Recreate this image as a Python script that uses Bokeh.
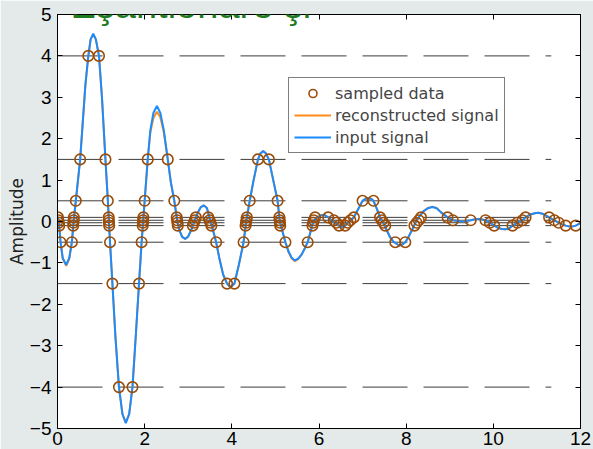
from bokeh.plotting import figure
from bokeh.models import Range1d, LinearAxis, FixedTicker, Legend, LegendItem, Label, ColumnDataSource
from bokeh.embed import file_html
from bokeh.resources import INLINE

# input signal, read point by point
sig_t = [0.00, 0.03, 0.07, 0.12, 0.20, 0.27, 0.33, 0.37, 0.42, 0.52, 0.58, 0.64, 0.707,
         0.76, 0.82, 0.88, 0.952, 1.02, 1.10, 1.155, 1.18, 1.205, 1.26, 1.33, 1.41, 1.49,
         1.567, 1.645, 1.72, 1.80, 1.87, 1.93, 1.965, 2.00, 2.07, 2.13, 2.20, 2.28, 2.36,
         2.44, 2.53, 2.60, 2.68, 2.75, 2.80, 2.86, 2.93, 3.00, 3.07, 3.14, 3.22, 3.29, 3.36,
         3.43, 3.51, 3.57, 3.64, 3.72, 3.80, 3.89, 3.97, 4.06, 4.16, 4.27, 4.33, 4.41, 4.50,
         4.60, 4.66, 4.72, 4.78, 4.85, 4.95, 5.05, 5.10, 5.23, 5.30, 5.37, 5.445, 5.52, 5.60,
         5.67, 5.74, 5.87, 5.95, 6.05, 6.12, 6.21, 6.30, 6.40, 6.52, 6.60, 6.72, 6.80, 6.90,
         7.00, 7.07, 7.14, 7.20, 7.25, 7.33, 7.40, 7.47, 7.55, 7.62, 7.70, 7.75, 7.84, 7.92,
         7.98, 8.06, 8.15, 8.22, 8.30, 8.40, 8.50, 8.60, 8.70, 8.80, 8.95, 9.07, 9.18, 9.28,
         9.38, 9.48, 9.56, 9.65, 9.74, 9.82, 9.92, 10.02, 10.12, 10.20, 10.28, 10.36, 10.44,
         10.55, 10.67, 10.74, 10.85, 10.95, 11.03, 11.15, 11.28, 11.40, 11.50, 11.58, 11.66,
         11.78, 11.89, 12.00]
sig_v = [0.12, 0.00, -0.50, -0.88, -1.05, -0.88, -0.50, 0.00, 0.50, 1.50, 2.40, 3.30, 4.00,
         4.40, 4.54, 4.40, 4.00, 3.00, 1.50, 0.50, 0.00, -0.50, -1.50, -2.80, -4.00, -4.65,
         -4.87, -4.65, -4.00, -2.70, -1.50, -0.50, 0.00, 0.50, 1.50, 2.20, 2.62, 2.79, 2.62,
         2.20, 1.50, 0.95, 0.50, 0.00, -0.22, -0.37, -0.42, -0.36, -0.20, 0.00, 0.22, 0.35, 0.39,
         0.32, 0.00, -0.22, -0.50, -0.92, -1.28, -1.50, -1.59, -1.50, -1.05, -0.50, 0.00, 0.50, 1.00,
         1.50, 1.65, 1.70, 1.65, 1.50, 1.00, 0.50, 0.00, -0.50, -0.72, -0.87, -0.94, -0.90, -0.80,
         -0.66, -0.50, 0.00, 0.10, 0.15, 0.16, 0.10, 0.02, -0.06, -0.14, -0.10, 0.03, 0.10, 0.30,
         0.50, 0.55, 0.56, 0.54, 0.50, 0.30, 0.10, -0.02, -0.20, -0.36, -0.48, -0.52, -0.58, -0.55,
         -0.50, -0.36, -0.17, -0.02, 0.12, 0.25, 0.32, 0.35, 0.32, 0.22, 0.10, 0.03, 0.01, 0.00,
         0.01, 0.03, 0.05, 0.06, 0.05, 0.03, -0.03, -0.10, -0.16, -0.18, -0.19, -0.17, -0.10,
         -0.03, 0.03, 0.10, 0.17, 0.20, 0.21, 0.18, 0.10, 0.03, -0.03, -0.07, -0.10,
         -0.13, -0.10, -0.04]
# reconstruction from the level-crossing samples
rec_v = [0.12, 0.00, -0.50, -0.90, -1.07, -0.90, -0.50, 0.00, 0.50, 1.50, 2.40, 3.30, 4.00,
         4.40, 4.52, 4.40, 4.00, 3.00, 1.50, 0.50, 0.00, -0.50, -1.50, -2.80, -4.00, -4.65,
         -4.85, -4.65, -4.00, -2.70, -1.50, -0.50, 0.00, 0.50, 1.50, 2.15, 2.50, 2.65, 2.52,
         2.15, 1.50, 0.95, 0.50, 0.00, -0.22, -0.37, -0.42, -0.36, -0.20, 0.00, 0.22, 0.35, 0.39,
         0.32, 0.00, -0.22, -0.50, -0.92, -1.28, -1.50, -1.59, -1.50, -1.05, -0.50, 0.00, 0.50, 1.00,
         1.50, 1.65, 1.70, 1.65, 1.50, 1.00, 0.50, 0.00, -0.50, -0.74, -0.89, -0.96, -0.91, -0.80,
         -0.66, -0.50, 0.00, 0.10, 0.15, 0.16, 0.10, 0.02, -0.06, -0.14, -0.10, 0.03, 0.10, 0.30,
         0.50, 0.56, 0.57, 0.55, 0.50, 0.30, 0.10, -0.02, -0.20, -0.36, -0.48, -0.52, -0.58, -0.55,
         -0.50, -0.36, -0.17, -0.02, 0.12, 0.25, 0.33, 0.36, 0.33, 0.22, 0.10, 0.03, 0.01, 0.00,
         0.01, 0.03, 0.05, 0.06, 0.05, 0.03, -0.03, -0.10, -0.16, -0.18, -0.19, -0.17, -0.10,
         -0.03, 0.03, 0.10, 0.17, 0.20, 0.21, 0.18, 0.10, 0.03, -0.03, -0.07, -0.10,
         -0.13, -0.10, -0.04]

# level-crossing samples (time, level)
smp_t = [0.01, 0.02, 0.03, 0.04, 0.07,
         0.33, 0.36, 0.365, 0.37, 0.375, 0.42, 0.52, 0.707,
         0.952, 1.10, 1.155, 1.175, 1.178, 1.182, 1.185, 1.205, 1.26, 1.41,
         1.72, 1.87, 1.93, 1.955, 1.96, 1.964, 1.97, 2.00, 2.07,
         2.53, 2.68, 2.735, 2.745, 2.752, 2.76,
         3.105, 3.13, 3.15, 3.175,
         3.46, 3.49, 3.51, 3.53, 3.64, 3.89,
         4.06, 4.27, 4.315, 4.325, 4.335, 4.345, 4.41, 4.60,
         4.85, 5.05, 5.09, 5.097, 5.103, 5.11, 5.23,
         5.74, 5.85, 5.865, 5.88, 5.91,
         6.21, 6.34, 6.40, 6.46,
         6.60, 6.66, 6.72, 6.80, 7.00,
         7.25, 7.40, 7.44, 7.48, 7.52, 7.75,
         7.98, 8.19, 8.24, 8.29, 8.34,
         8.95, 9.07, 9.48,
         9.82, 9.92, 10.02,
         10.44, 10.55, 10.67, 10.74,
         11.28, 11.40, 11.50, 11.66, 11.89]
smp_v = [0.1, 0.03, -0.03, -0.1, -0.5,
         -0.5, -0.1, -0.03, 0.03, 0.1, 0.5, 1.5, 4.0,
         4.0, 1.5, 0.5, 0.1, 0.03, -0.03, -0.1, -0.5, -1.5, -4.0,
         -4.0, -1.5, -0.5, -0.1, -0.03, 0.03, 0.1, 0.5, 1.5,
         1.5, 0.5, 0.1, 0.03, -0.03, -0.1,
         -0.1, -0.03, 0.03, 0.1,
         0.1, 0.03, -0.03, -0.1, -0.5, -1.5,
         -1.5, -0.5, -0.1, -0.03, 0.03, 0.1, 0.5, 1.5,
         1.5, 0.5, 0.1, 0.03, -0.03, -0.1, -0.5,
         -0.5, -0.1, -0.03, 0.03, 0.1,
         0.1, 0.03, -0.03, -0.1,
         -0.1, -0.03, 0.03, 0.1, 0.5,
         0.5, 0.1, 0.03, -0.03, -0.1, -0.5,
         -0.5, -0.1, -0.03, 0.03, 0.1,
         0.1, 0.03, 0.03,
         0.03, -0.03, -0.1,
         -0.1, -0.03, 0.03, 0.1,
         0.1, 0.03, -0.03, -0.1, -0.1]

# quantisation levels and the time span they are drawn over
levels = [4.0, 1.5, 0.5, 0.1, 0.03, -0.03, -0.1, -0.5, -1.5, -4.0]
level_start = 0.0
level_end = 11.33

x_ticks = [0, 2, 4, 6, 8, 10, 12]
y_ticks = [-5, -4, -3, -2, -1, 0, 1, 2, 3, 4, 5]
y_label = "Amplitude"
legend_labels = ["sampled data", "reconstructed signal", "input signal"]
title_text = "Eşantionare şi"

BG = "#e4eaea"
TICK_FONT = "Liberation Sans"

p = figure(width=593, height=449, x_range=Range1d(0, 12), y_range=Range1d(-5, 5),
           output_backend="svg", toolbar_location=None,
           min_border_left=57, min_border_right=13, min_border_top=14, min_border_bottom=21,
           background_fill_color="white", border_fill_color=BG)
p.xgrid.visible = False
p.ygrid.visible = False
p.outline_line_color = "black"
p.outline_line_width = 1

for ax, ticks in ((p.xaxis[0], x_ticks), (p.yaxis[0], y_ticks)):
    ax.ticker = FixedTicker(ticks=ticks)
    ax.major_tick_in = 5
    ax.major_tick_out = 0
    ax.minor_tick_line_color = None
    ax.axis_line_color = "black"
    ax.major_tick_line_color = "black"
    ax.major_label_text_font = TICK_FONT
    ax.major_label_text_font_size = "19px"
    ax.major_label_text_color = "black"
p.xaxis.major_label_standoff = 3
p.yaxis.major_label_standoff = 6
p.yaxis.axis_label = y_label
p.yaxis.axis_label_text_font = "DejaVu Sans"
p.yaxis.axis_label_text_font_size = "17px"
p.yaxis.axis_label_text_font_style = "normal"
p.yaxis.axis_label_text_color = "#222222"
p.yaxis.axis_label_standoff = 0

# box ticks on the top and right edges, without labels
for side, ticks in (("above", x_ticks), ("right", y_ticks)):
    ax = LinearAxis(ticker=FixedTicker(ticks=ticks),
                    major_label_overrides={t: "" for t in ticks},
                    major_label_standoff=0, major_tick_in=5, major_tick_out=0,
                    minor_tick_line_color=None, axis_line_color="black")
    p.add_layout(ax, side)

# quantisation levels
lv = ColumnDataSource(dict(x0=[level_start] * len(levels), x1=[level_end] * len(levels), y=levels))
p.segment(x0="x0", y0="y", x1="x1", y1="y", source=lv, line_color="#3c3c3c",
          line_width=1, line_dash="45 16")

r_rec = p.line(sig_t, rec_v, line_color="#ff8c1a", line_width=2)
r_sig = p.line(sig_t, sig_v, line_color="#1a8cff", line_width=2)
r_smp = p.scatter(smp_t, smp_v, marker="circle", size=10.5, fill_color=None,
                  line_color="#9a4d0a", line_width=1.6)

legend = Legend(items=[LegendItem(label=legend_labels[0], renderers=[r_smp]),
                       LegendItem(label=legend_labels[1], renderers=[r_rec]),
                       LegendItem(label=legend_labels[2], renderers=[r_sig])],
                location=(231, 275), orientation="vertical",
                label_text_font="DejaVu Sans", label_text_font_size="16px",
                label_height=20, glyph_height=20, glyph_width=37, label_standoff=4,
                spacing=2, padding=5, margin=0,
                border_line_color="black", border_line_width=1,
                background_fill_color="white", background_fill_alpha=1)
p.add_layout(legend, "center")

# slide heading, mostly above the top edge of the page (offsets from the frame's lower left)
p.add_layout(Label(x=13, y=424, x_units="screen", y_units="screen", text=title_text,
                   text_font="Liberation Sans", text_font_size="38px",
                   text_color="#1e7b1e", text_baseline="alphabetic"))

open("out.html", "w").write(file_html(p, INLINE))
